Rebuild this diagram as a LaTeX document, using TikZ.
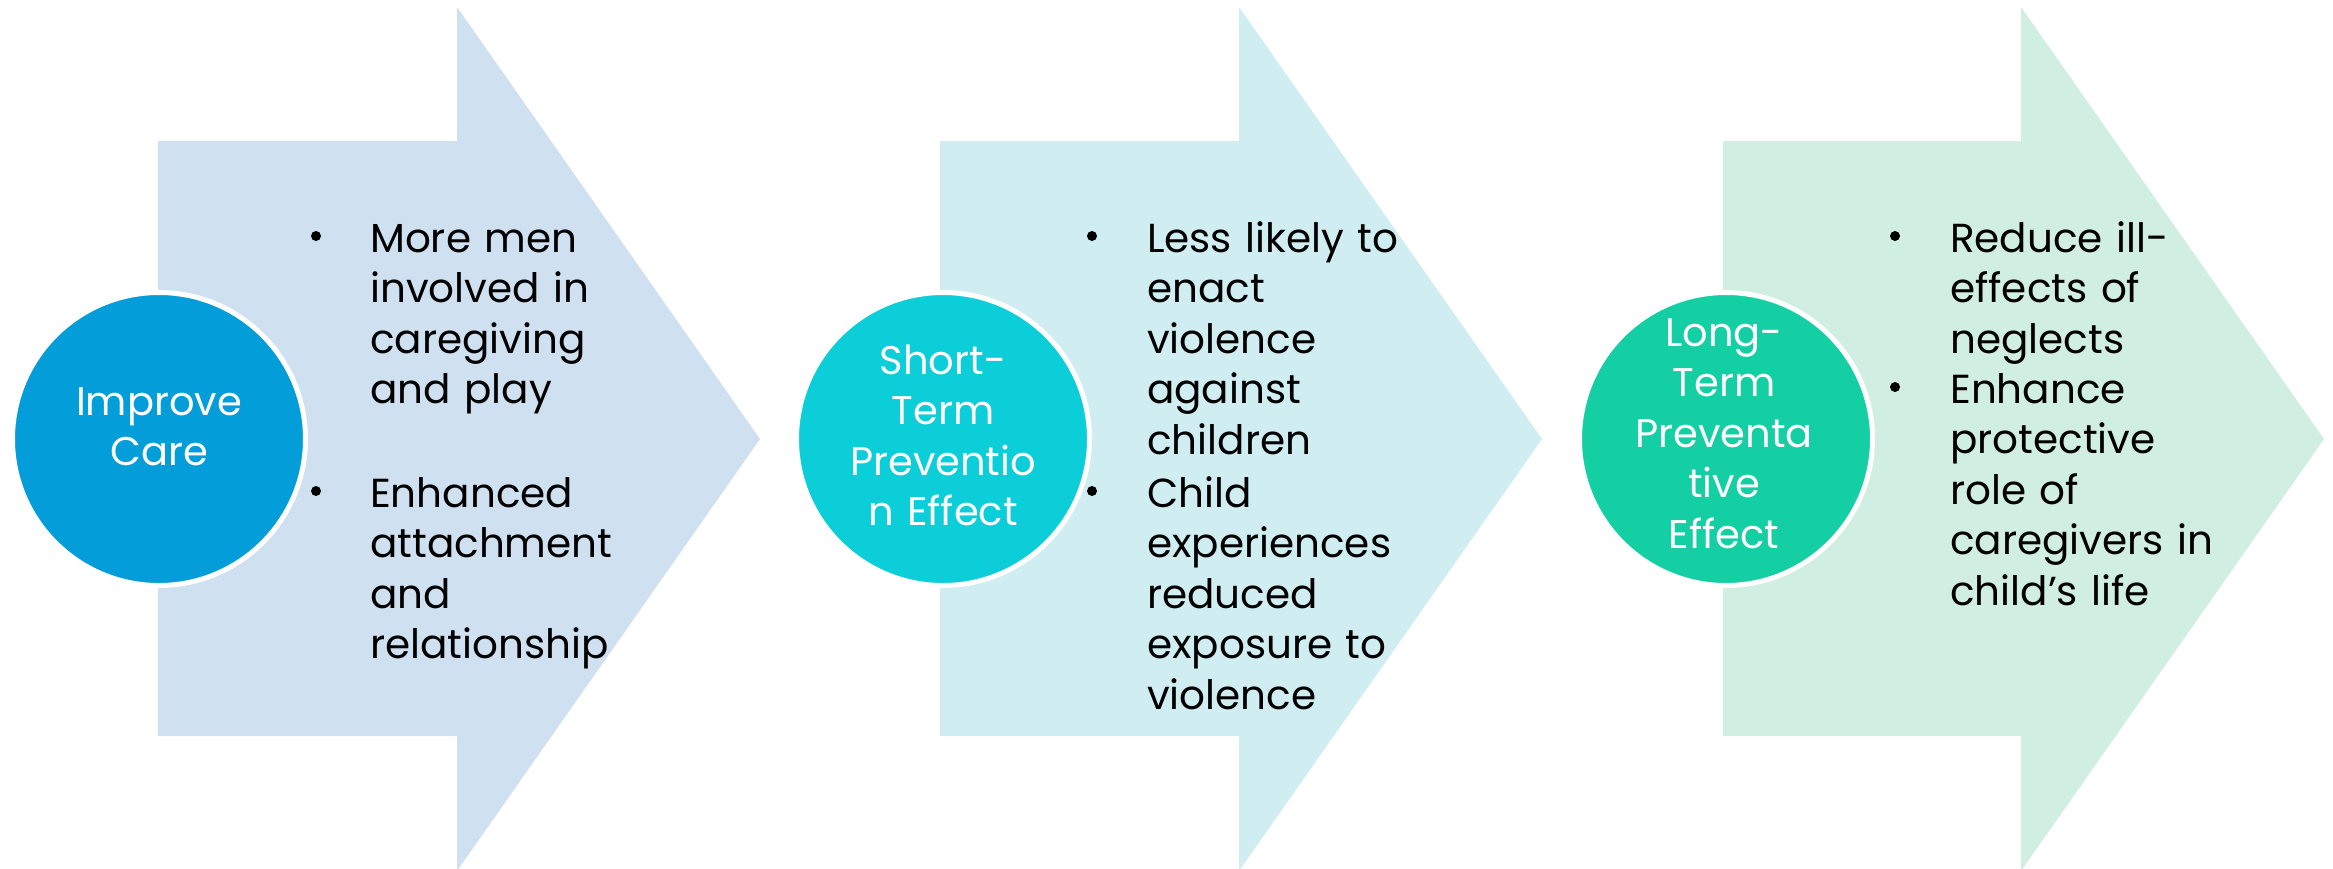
\documentclass[tikz,border=0pt]{standalone}
\usepackage{fontspec}
\setmainfont{Poppins}
\usetikzlibrary{positioning}

\definecolor{arrowone}{HTML}{CFE1F1}
\definecolor{arrowtwo}{HTML}{D0EDF1}
\definecolor{arrowthree}{HTML}{D1EEE2}
\definecolor{discone}{HTML}{039DD9}
\definecolor{disctwo}{HTML}{0CCED8}
\definecolor{discthree}{HTML}{13CFA3}

\tikzset{
  disc/.style={circle, draw=white, line width=5pt, minimum size=293pt, inner sep=0pt},
  disctext/.style={text=white, text width=280pt, align=center, inner sep=0pt, anchor=base,
    font=\fontsize{40}{50.5}\selectfont},
  item/.style={text width=420pt, align=left, inner sep=0pt, anchor=base west,
    font=\fontsize{40.5}{50.5}\selectfont},
  dot/.style={circle, fill=black, minimum size=10pt, inner sep=0pt},
}

\begin{document}
\begin{tikzpicture}[x=1pt,y=-1pt]
\useasboundingbox (0,0) rectangle (2333,868);

% arrow 1
\fill[arrowone] (158,141) -- (457,141) -- (457,7) -- (760,439) -- (457,871) -- (457,736) -- (158,736) -- cycle;
\node[disc, fill=discone] (care) at (159,439) {};
\node[disctext] (caretext) at (159,415) {Improve\\Care};
\node[dot] (dot1a) at (316,236) {};
\node[item] (item1a) at (370,252) {More men\\involved in\\caregiving\\and play};
\node[dot] (dot1b) at (316,491) {};
\node[item] (item1b) at (370,507) {Enhanced\\attachment\\and\\relationship};

% arrow 2
\fill[arrowtwo] (940,141) -- (1239,141) -- (1239,7) -- (1542,439) -- (1239,871) -- (1239,736) -- (940,736) -- cycle;
\node[disc, fill=disctwo] (short) at (943,439) {};
\node[disctext] (shorttext) at (943,374) {Short-\\Term\\Preventio\\n Effect};
\node[dot] (dot2a) at (1092,236) {};
\node[item] (item2a) at (1147,252) {Less likely to\\enact\\violence\\against\\children};
\node[dot] (dot2b) at (1092,491) {};
\node[item] (item2b) at (1147,507) {Child\\experiences\\reduced\\exposure to\\violence};

% arrow 3
\fill[arrowthree] (1723,141) -- (2021,141) -- (2021,7) -- (2324,439) -- (2021,871) -- (2021,736) -- (1723,736) -- cycle;
\node[disc, fill=discthree] (long) at (1726,439) {};
\node[disctext] (longtext) at (1724,346) {Long-\\Term\\Preventa\\tive\\Effect};
\node[dot] (dot3a) at (1895,236) {};
\node[item] (item3a) at (1950,252) {Reduce ill-\\effects of\\neglects};
\node[dot] (dot3b) at (1895,387) {};
\node[item] (item3b) at (1950,403) {Enhance\\protective\\role of\\caregivers in\\child’s life};
\end{tikzpicture}
\end{document}
